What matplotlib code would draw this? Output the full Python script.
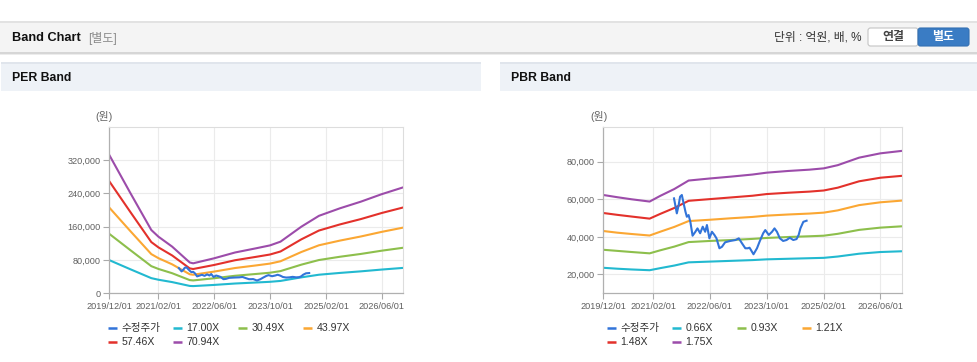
import pandas as pd
import matplotlib
matplotlib.use('Agg')
import matplotlib.pyplot as plt
import matplotlib.dates as mdates
from matplotlib.patches import Rectangle, FancyBboxPatch

# 폰트 설정 (숫자는 Liberation, 한글은 Noto CJK)
plt.rcParams['font.family'] = ['Liberation Sans', 'Noto Sans CJK KR']
plt.rcParams['axes.unicode_minus'] = False

# ---------------- 데이터 ----------------
# 수정주가 (원)
price_dates = ['2021-07-29', '2021-08-22', '2021-09-07', '2021-09-19', '2021-10-04', '2021-10-19',
               '2021-11-04', '2021-11-16', '2021-12-01', '2021-12-16', '2022-01-04', '2022-01-28',
               '2022-02-15', '2022-03-10', '2022-04-01', '2022-04-22', '2022-05-07', '2022-05-28',
               '2022-06-19', '2022-07-10', '2022-07-28', '2022-08-22', '2022-09-13', '2022-10-10',
               '2022-11-22', '2023-01-07', '2023-02-04', '2023-03-04', '2023-04-01', '2023-04-22',
               '2023-05-07', '2023-05-19', '2023-06-10', '2023-07-10', '2023-08-01', '2023-09-01',
               '2023-09-19', '2023-10-19', '2023-11-16', '2023-12-07', '2023-12-28', '2024-01-22',
               '2024-02-19', '2024-03-19', '2024-04-16', '2024-05-16', '2024-06-13', '2024-07-01',
               '2024-07-16', '2024-08-10', '2024-09-07']
price = [60500, 52500, 57000, 61400, 62300, 57900,
         53400, 50700, 51600, 48000, 40600, 42700,
         44500, 41900, 45400, 42700, 46300, 39200,
         42700, 41000, 39200, 33900, 34700, 37100,
         37800, 38300, 39200, 36500, 33900, 33900,
         34200, 33000, 30700, 33900, 37400, 41900,
         43600, 41000, 42700, 44500, 42700, 39200,
         37800, 38300, 39500, 38300, 38800, 41000,
         44500, 48000, 48600]

# PER 밴드
per_dates = ['2019-12-01', '2020-06-01', '2020-12-01', '2021-02-01', '2021-06-01', '2021-11-01',
             '2021-12-01', '2022-06-01', '2022-12-01', '2023-06-01', '2023-10-01', '2024-01-01',
             '2024-07-01', '2024-12-01', '2025-06-01', '2025-12-01', '2026-06-01', '2026-12-01']
per_labels = ['17.00X', '30.49X', '43.97X', '57.46X', '70.94X']
per_17 = [79600, 57800, 36400, 32600, 26900, 17700, 17300, 20100, 23500, 25900, 27600, 29700,
          38300, 44600, 48900, 52700, 57000, 60900]
per_30 = [142700, 103700, 65200, 58500, 48200, 31700, 30900, 36100, 42100, 46400, 49400, 53300,
          68800, 79900, 87700, 94500, 102300, 109200]
per_44 = [205800, 149500, 94100, 84400, 69500, 45700, 44600, 52100, 60700, 66900, 71300, 76900,
          99200, 115300, 126500, 136400, 147500, 157500]
per_57 = [268900, 195400, 123000, 110300, 90800, 59800, 58300, 68000, 79400, 87500, 93100, 100400,
          129600, 150700, 165300, 178200, 192800, 205800]
per_71 = [332000, 241000, 152000, 136000, 112000, 74000, 72000, 84000, 98000, 108000, 115000, 124000,
          160000, 186000, 204000, 220000, 238000, 254000]

# PBR 밴드
pbr_dates = ['2019-12-01', '2020-04-01', '2020-08-01', '2021-01-01', '2021-04-01', '2021-08-01',
             '2021-12-01', '2022-06-01', '2022-12-01', '2023-06-01', '2023-10-01', '2024-04-01',
             '2024-10-01', '2025-02-01', '2025-06-01', '2025-12-01', '2026-06-01', '2026-12-01']
pbr_labels = ['0.66X', '0.93X', '1.21X', '1.48X', '1.75X']
pbr_066 = [23500, 23000, 22600, 22200, 23300, 24700, 26400, 26800, 27200, 27600, 28000, 28300,
           28600, 28800, 29500, 31000, 31900, 32300]
pbr_093 = [33100, 32500, 31900, 31200, 32800, 34800, 37200, 37800, 38300, 38900, 39400, 39900,
           40300, 40600, 41600, 43700, 44900, 45600]
pbr_121 = [43100, 42200, 41500, 40700, 42700, 45300, 48400, 49100, 49900, 50600, 51300, 51900,
           52400, 52900, 54100, 56900, 58400, 59300]
pbr_148 = [52700, 51700, 50800, 49700, 52200, 55400, 59200, 60100, 61000, 61900, 62800, 63500,
           64100, 64700, 66200, 69600, 71500, 72500]
pbr_175 = [62300, 61100, 60000, 58800, 61800, 65500, 70000, 71100, 72100, 73200, 74200, 75100,
           75800, 76500, 78200, 82200, 84500, 85800]

x_ticks = ['2019-12-01', '2021-02-01', '2022-06-01', '2023-10-01', '2025-02-01', '2026-06-01']
per_yticks = [0, 80000, 160000, 240000, 320000]
pbr_yticks = [20000, 40000, 60000, 80000]

price_color = '#3274d9'
band_colors = ['#22b9d0', '#8dbf4c', '#fba733', '#e3312b', '#9c4caa']

# ---------------- 그림 ----------------
W, H = 978, 362
fig = plt.figure(figsize=(W / 100, H / 100), dpi=100)

# 배경 (픽셀 좌표용)
bg = fig.add_axes([0, 0, 1, 1], zorder=0)
bg.set_xlim(0, W)
bg.set_ylim(H, 0)
bg.axis('off')

# 상단 바
bg.add_patch(Rectangle((0, 21), W, 2, color='#e2e2e2', lw=0))
bg.add_patch(Rectangle((0, 23), W, 29, color='#f4f4f4', lw=0))
bg.add_patch(Rectangle((0, 52), W, 1.5, color='#d6d6d6', lw=0))
bg.add_patch(Rectangle((0, 53.5), W, 1.5, color='#ececec', lw=0))
bg.text(12, 38, 'Band Chart', fontsize=9.2, fontweight='bold', color='#111111', va='center')
bg.text(88, 38.5, '[별도]', fontsize=8.6, color='#8a8a8a', va='center')
bg.text(862, 38, '단위 : 억원, 배, %', fontsize=8.5, color='#333333', va='center', ha='right')
bg.add_patch(FancyBboxPatch((868, 28), 50, 18, boxstyle='round,pad=0,rounding_size=2.5',
                            fc='white', ec='#c4c4c4', lw=0.8))
bg.add_patch(FancyBboxPatch((918, 28), 51, 18, boxstyle='round,pad=0,rounding_size=2.5',
                            fc='#3a7cc4', ec='#3370b3', lw=0.8))
bg.text(893, 37, '연결', fontsize=8.6, fontweight='bold', color='#444444', ha='center', va='center')
bg.text(943.5, 37, '별도', fontsize=8.6, fontweight='bold', color='white', ha='center', va='center')

# 패널 헤더
for x0, x1, title in [(1, 481, 'PER Band'), (500, 978, 'PBR Band')]:
    bg.add_patch(Rectangle((x0, 62), x1 - x0, 2, color='#e0e5ec', lw=0))
    bg.add_patch(Rectangle((x0, 64), x1 - x0, 27, color='#eef2f7', lw=0))
    bg.text(x0 + 11, 78, title, fontsize=8.8, fontweight='bold', color='#111111', va='center')


def draw_band(ax_rect, dates, bands, labels, ylim, yticks, unit_x, legend_x):
    ax = fig.add_axes(ax_rect, zorder=1)
    for vals, c in zip(bands, band_colors):
        ax.plot(pd.to_datetime(dates), vals, color=c, lw=1.5, solid_joinstyle='round')
    ax.plot(pd.to_datetime(price_dates), price, color=price_color, lw=1.5, zorder=5)
    ax.set_xlim(pd.Timestamp('2019-12-01'), pd.Timestamp('2026-12-01'))
    ax.set_ylim(*ylim)
    ax.set_xticks(pd.to_datetime(x_ticks))
    ax.xaxis.set_major_formatter(mdates.DateFormatter('%Y/%m/%d'))
    ax.set_yticks(yticks)
    ax.set_yticklabels([f'{v:,}' for v in yticks])
    ax.tick_params(axis='both', labelsize=6.6, labelcolor='#606060', color='#aaaaaa', length=4, width=0.8)
    ax.tick_params(axis='x', pad=2)
    ax.tick_params(axis='y', pad=2)
    ax.grid(True, color='#ebebeb', lw=0.8)
    ax.set_axisbelow(True)
    for s in ['left', 'bottom']:
        ax.spines[s].set_color('#b0b0b0')
        ax.spines[s].set_linewidth(0.9)
    for s in ['top', 'right']:
        ax.spines[s].set_color('#dddddd')
        ax.spines[s].set_linewidth(0.8)
    bg.text(unit_x, 116, '(원)', fontsize=7.8, color='#666666', ha='center', va='center')

    # 범례 (2줄)
    names = ['수정주가'] + labels
    colors = [price_color] + band_colors
    pos = [(0, 328), (1, 328), (2, 328), (3, 328), (0, 342), (1, 342)]
    for (col, y), name, c in zip(pos, names, colors):
        x = legend_x + col * 65
        bg.plot([x, x + 9], [y, y], color=c, lw=1.8, solid_capstyle='butt')
        bg.text(x + 13.5, y, name, fontsize=7.6, color='#333333', va='center')
    return ax


per_bands = [per_17, per_30, per_44, per_57, per_71]
pbr_bands = [pbr_066, pbr_093, pbr_121, pbr_148, pbr_175]

top, bottom = 126.7, 293.3
draw_band([109.3 / W, 1 - bottom / H, (402.7 - 109.3) / W, (bottom - top) / H],
          per_dates, per_bands, per_labels, (0, 400000), per_yticks, 104, 108)
draw_band([603.3 / W, 1 - bottom / H, (901.7 - 603.3) / W, (bottom - top) / H],
          pbr_dates, pbr_bands, pbr_labels, (9900, 98700), pbr_yticks, 599, 607)

plt.savefig('out.png', dpi=100)
plt.close()
